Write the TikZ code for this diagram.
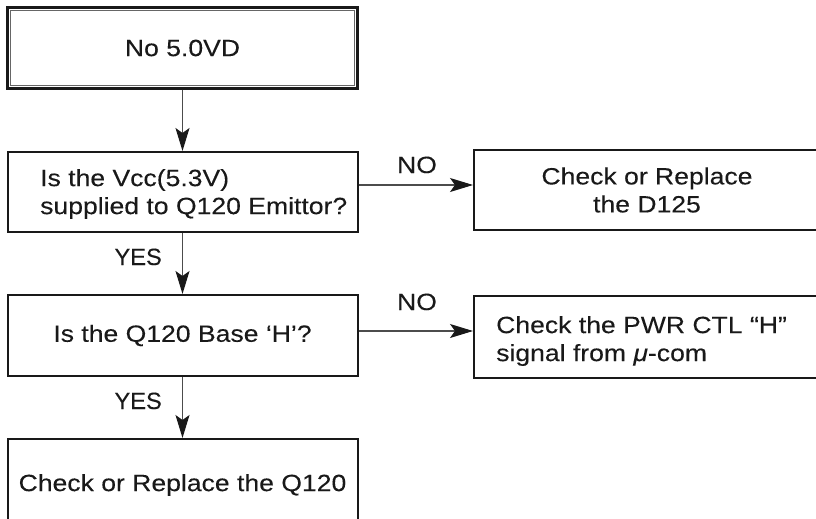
\documentclass[tikz,border=0pt]{standalone}
\usepackage{graphicx}
\usepackage{fontspec}
\setmainfont{Liberation Sans}[FakeStretch=1.13,FakeBold=0.15]
\usetikzlibrary{arrows.meta}
\begin{document}
\begin{tikzpicture}[x=1pt,y=-1pt,
  txt/.style={font=\fontsize{23.5}{28}\selectfont, text=black!90},
  box/.style={draw=black!90, line width=2pt, rectangle, inner sep=0pt, txt},
  lbl/.style={inner sep=0pt, txt},
  arr/.style={draw=black!70, line width=1.1pt, -{Stealth[length=23pt,width=14pt,inset=5pt,color=black!90]}}]
\useasboundingbox (0,0) rectangle (816,519);
\clip (0,0) rectangle (816,519);
% boxes
\node[box, line width=2.4pt, minimum width=350pt, minimum height=81pt] (top) at (182.5,48) {No 5.0VD};
\draw[black!60, line width=1pt] ([xshift=4.5pt,yshift=4.5pt]top.south west) rectangle ([xshift=-4.5pt,yshift=-4.5pt]top.north east);
\node[box, minimum width=350pt, minimum height=80pt] (q1) at (182.5,192) {};
\node[lbl, align=left, anchor=west] (q1t) at (40,194) {Is the Vcc(5.3V)\\supplied to Q120 Emittor?};
\node[box, minimum width=346pt, minimum height=80pt, align=center] (r1) at (647,190) {Check or Replace\\the D125};
\node[box, minimum width=350pt, minimum height=81pt] (q2) at (182.5,335.5) {Is the Q120 Base ‘H’?};
\node[box, minimum width=346pt, minimum height=82pt] (r2) at (647,337) {};
\node[lbl, align=left, anchor=west] (r2t) at (496,341) {Check the PWR CTL “H”\\signal from \textit{μ}-com};
\node[box, minimum width=350pt, minimum height=92pt] (r3) at (182.5,485) {Check or Replace the Q120};
% connectors
\coordinate (n1) at (0,185);
\coordinate (n2) at (0,331);
\draw[arr] (top.south) -- (q1.north);
\draw[arr] (q1.south) -- (q2.north);
\draw[arr] (q2.south) -- (r3.north);
\draw[arr] (q1.east |- n1) -- (r1.west |- n1);
\draw[arr] (q2.east |- n2) -- (r2.west |- n2);
% labels
\node[lbl, anchor=base] (no1) at (417,173) {NO};
\node[lbl, anchor=base] (no2) at (417,310) {NO};
\node[lbl, anchor=base east] (yes1) at (162,265) {\scalebox{0.89}[1]{YES}};
\node[lbl, anchor=base east] (yes2) at (162,409) {\scalebox{0.89}[1]{YES}};
\end{tikzpicture}
\end{document}
